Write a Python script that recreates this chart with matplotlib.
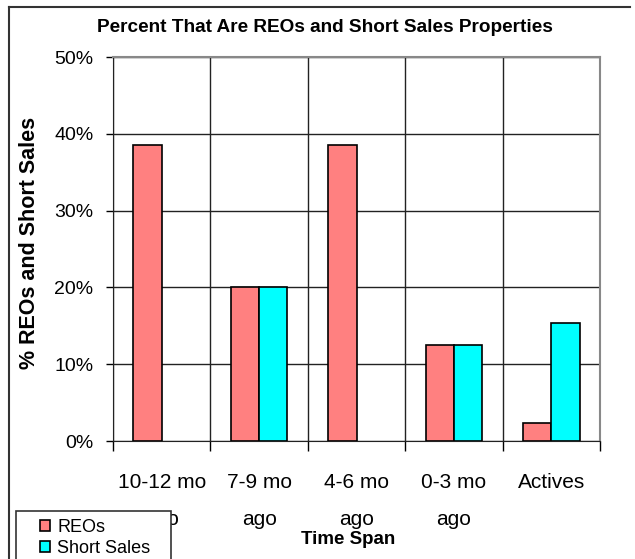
import matplotlib
matplotlib.use("Agg")
import matplotlib.pyplot as plt
import numpy as np
from matplotlib.lines import Line2D
from matplotlib.patches import Rectangle, Patch

plt.rcParams['font.family'] = ['Liberation Sans', 'DejaVu Sans']

categories = ["10-12 mo\nago", "7-9 mo\nago", "4-6 mo\nago", "0-3 mo\nago", "Actives"]
reos = [38.5, 20.0, 38.5, 12.5, 2.4]
short_sales = [0.0, 20.0, 0.0, 12.5, 15.4]
yticks = [0, 10, 20, 30, 40, 50]
red = "#FF8080"
cyan = "#00FFFF"

fig = plt.figure(figsize=(6.35, 5.59), dpi=100)
ax = fig.add_axes([113 / 635, 1 - 441 / 559, 487 / 635, 384 / 559])

x = np.arange(len(categories))
w = 0.29
b1 = ax.bar(x - w / 2, reos, w, color=red, edgecolor="black", linewidth=1.2, zorder=3)
b2 = ax.bar(x + w / 2, short_sales, w, color=cyan, edgecolor="black", linewidth=1.2, zorder=3)
# empty bars leave no outline
for bars in (b1, b2):
    for p in bars:
        if p.get_height() == 0:
            p.set_visible(False)

ax.set_xlim(-0.5, len(categories) - 0.5)
ax.set_ylim(0, 50)
ax.set_yticks(yticks)
ax.set_yticklabels([f"{v}%" for v in yticks])
ax.set_xticks(x)
ax.set_xticklabels(categories, linespacing=2.2)
ax.set_xticks(np.arange(len(categories) + 1) - 0.5, minor=True)

ax.tick_params(axis="x", which="major", length=0, pad=23, labelsize=15)
ax.tick_params(axis="x", which="minor", length=7, width=1, direction="out")
ax.tick_params(axis="y", length=5, width=1, direction="out", pad=9, labelsize=14)

ax.grid(axis="y", which="major", color="#222222", linewidth=1, zorder=0)
ax.grid(axis="x", which="minor", color="#222222", linewidth=1, zorder=0)

for side in ["top", "right"]:
    ax.spines[side].set_color("#888888")
    ax.spines[side].set_linewidth(1.5)
ax.spines["left"].set_color("#222222")
ax.spines["bottom"].set_color("#222222")

fig.text(325 / 635, 1 - 28 / 559, "Percent That Are REOs and Short Sales Properties",
         ha="center", va="center", fontsize=13.7, fontweight="bold")
fig.text(30 / 635, 1 - 243 / 559, "% REOs and Short Sales", rotation=90,
         ha="center", va="center", fontsize=15.5, fontweight="bold")
fig.text(348 / 635, 1 - 539 / 559, "Time Span", ha="center", va="center",
         fontsize=13.5, fontweight="bold")

# legend box, partly cut off by the bottom edge
fig.add_artist(Rectangle((16 / 635, -0.02), (171 - 16) / 635, 0.02 + 48 / 559,
                         transform=fig.transFigure, facecolor="white",
                         edgecolor="#333333", linewidth=1.2, zorder=5))
handles = [Patch(facecolor=red, edgecolor="black", linewidth=1.2, label="REOs"),
           Patch(facecolor=cyan, edgecolor="black", linewidth=1.2, label="Short Sales")]
leg = fig.legend(handles=handles, loc="upper left",
                 bbox_to_anchor=(40 / 635, 1 - 519 / 559),
                 frameon=False, fontsize=13,
                 handlelength=0.55, handleheight=0.55, handletextpad=0.4,
                 labelspacing=0.2, borderpad=0, borderaxespad=0)
leg.set_zorder(6)

# outer chart border
fig.add_artist(Line2D([8.5 / 635, 8.5 / 635], [0, 1 - 7 / 559], color="#333333",
                      linewidth=1.5, transform=fig.transFigure))
fig.add_artist(Line2D([8.5 / 635, 630 / 635], [1 - 7 / 559, 1 - 7 / 559],
                      color="#333333", linewidth=1.5, transform=fig.transFigure))

fig.savefig("out.png", dpi=100)
